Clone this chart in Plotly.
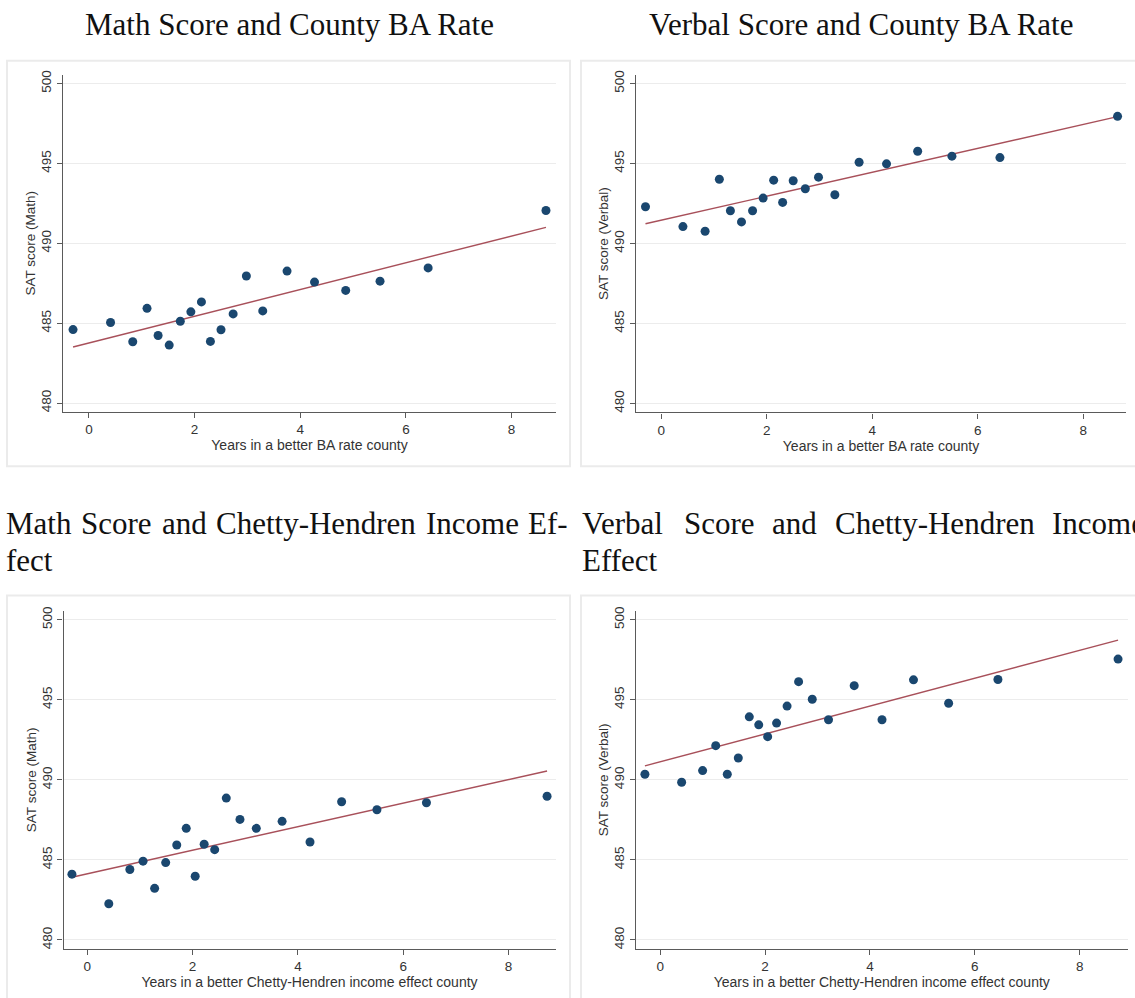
import plotly.graph_objects as go

W, H = 1135, 998

# Binned scatter: years of exposure vs. mean SAT score
ba_years = [-0.30, 0.41, 0.83, 1.10, 1.31, 1.52, 1.73, 1.93, 2.13, 2.30,
            2.50, 2.73, 2.98, 3.29, 3.75, 4.27, 4.86, 5.51, 6.42, 8.65]
ba_math = [484.60, 485.04, 483.84, 485.93, 484.23, 483.63, 485.12, 485.71, 486.33, 483.86,
           484.59, 485.58, 487.95, 485.77, 488.26, 487.57, 487.05, 487.63, 488.46, 492.05]
ba_verbal = [492.30, 491.06, 490.77, 494.02, 492.05, 491.35, 492.05, 492.84, 493.96, 492.57,
             493.92, 493.42, 494.15, 493.05, 495.08, 494.98, 495.77, 495.46, 495.37, 497.95]

ch_years = [-0.29, 0.41, 0.81, 1.06, 1.28, 1.49, 1.70, 1.88, 2.05, 2.22,
            2.42, 2.64, 2.90, 3.21, 3.70, 4.23, 4.83, 5.50, 6.44, 8.73]
ch_math = [484.11, 482.26, 484.40, 484.92, 483.22, 484.83, 485.93, 486.97, 483.98, 485.98,
           485.64, 488.86, 487.53, 486.97, 487.41, 486.12, 488.63, 488.13, 488.57, 488.98]
ch_verbal = [490.35, 489.85, 490.58, 492.14, 490.35, 491.37, 493.94, 493.44, 492.70, 493.55,
             494.61, 496.14, 495.04, 493.76, 495.89, 493.76, 496.25, 494.79, 496.27, 497.55]

# Linear fit (intercept, slope) for each panel
fit_ba_math = (483.76, 0.837)
fit_ba_verbal = (491.46, 0.748)
fit_ch_math = (484.13, 0.736)
fit_ch_verbal = (491.13, 0.871)

y_ticks = [480, 485, 490, 495, 500]
x_ticks = [0, 2, 4, 6, 8]

NAVY = "#1a476f"
MAROON = "#a8505a"
AXIS = "#5a5a5a"
GRID = "#ececec"
SANS = "Liberation Sans, Arial, sans-serif"
SERIF = "Liberation Serif, Times New Roman, serif"


def px_x(p):
    return p / W


def px_y(p):
    return 1 - p / H


panels = [
    # (x, y, fit, y title, x title, x-domain px, y-domain px, x range)
    (ba_years, ba_math, fit_ba_math, "SAT score (Math)", "Years in a better BA rate county",
     (63, 556), (71, 409.5), (-0.49, 8.84)),
    (ba_years, ba_verbal, fit_ba_verbal, "SAT score (Verbal)", "Years in a better BA rate county",
     (636, 1126), (71, 410), (-0.48, 8.81)),
    (ch_years, ch_math, fit_ch_math, "SAT score (Math)",
     "Years in a better Chetty-Hendren income effect county",
     (63.5, 555.5), (609.5, 948.5), (-0.45, 8.89)),
    (ch_years, ch_verbal, fit_ch_verbal, "SAT score (Verbal)",
     "Years in a better Chetty-Hendren income effect county",
     (636, 1127.5), (609.5, 948.5), (-0.46, 8.91)),
]

fig = go.Figure()
layout = {}
annotations = []
shapes = []

# light frames around each graph region
frames = [(7, 570, 57, 464), (581, 1140, 57, 464), (7, 570, 594, 1000), (581, 1140, 594, 1000)]
for x0, x1, y0, y1 in frames:
    shapes.append(dict(type="rect", xref="paper", yref="paper",
                       x0=px_x(x0), x1=px_x(x1), y0=px_y(y1), y1=px_y(y0),
                       line=dict(color="#ebebeb", width=2), fillcolor="rgba(0,0,0,0)",
                       layer="below"))

for i, (xs, ys, fit, ytitle, xtitle, xd, yd, xr) in enumerate(panels, start=1):
    xa = "x" if i == 1 else f"x{i}"
    ya = "y" if i == 1 else f"y{i}"
    a, b = fit
    x_lo, x_hi = min(xs), max(xs)
    fig.add_trace(go.Scatter(x=[x_lo, x_hi], y=[a + b * x_lo, a + b * x_hi], mode="lines",
                             line=dict(color=MAROON, width=1.4), xaxis=xa, yaxis=ya,
                             showlegend=False, hoverinfo="skip"))
    fig.add_trace(go.Scatter(x=xs, y=ys, mode="markers",
                             marker=dict(color=NAVY, size=9, line=dict(width=0)),
                             xaxis=xa, yaxis=ya, showlegend=False))
    xkey = "xaxis" if i == 1 else f"xaxis{i}"
    ykey = "yaxis" if i == 1 else f"yaxis{i}"
    layout[xkey] = dict(domain=[px_x(xd[0]), px_x(xd[1])], anchor=ya, range=list(xr),
                        tickvals=x_ticks, showgrid=False, zeroline=False,
                        showline=True, linecolor=AXIS, linewidth=1.3,
                        ticks="outside", ticklen=5, tickcolor=AXIS, tickwidth=1.2,
                        tickfont=dict(family=SANS, size=13.5, color="#333333"),
                        title=dict(text=xtitle, standoff=1,
                                   font=dict(family=SANS, size=14, color="#333333")))
    layout[ykey] = dict(domain=[px_y(yd[1]), px_y(yd[0])], anchor=xa,
                        range=[479.45, 500.55], tickvals=y_ticks, tickangle=-90,
                        showgrid=True, gridcolor=GRID, gridwidth=1, zeroline=False,
                        showline=True, linecolor=AXIS, linewidth=1.3,
                        ticks="outside", ticklen=5, tickcolor=AXIS, tickwidth=1.2,
                        tickfont=dict(family=SANS, size=13.5, color="#333333"),
                        title=dict(text=ytitle, standoff=0,
                                   font=dict(family=SANS, size=13.5, color="#333333")))

# panel headings
title_font = dict(family=SERIF, size=31, color="#111111")
annotations.append(dict(text="Math Score and County BA Rate", xref="paper", yref="paper",
                        x=px_x(289), y=px_y(21), xanchor="center", yanchor="middle",
                        showarrow=False, font=title_font))
annotations.append(dict(text="Verbal Score and County BA Rate", xref="paper", yref="paper",
                        x=px_x(861), y=px_y(21), xanchor="center", yanchor="middle",
                        showarrow=False, font=title_font))

# justified two-line headings, placed word by word
heading_words = [
    (["Math", "Score", "and", "Chetty-Hendren", "Income", "Ef-"],
     [4, 79, 159.5, 214, 423.5, 526], 522),
    (["fect"], [4], 559),
    (["Verbal", "Score", "and", "Chetty-Hendren", "Income"],
     [580, 681.5, 770, 832.5, 1050], 522),
    (["Effect"], [580], 559),
]
for words, xs_px, y_px in heading_words:
    for w, xp in zip(words, xs_px):
        annotations.append(dict(text=w, xref="paper", yref="paper",
                                x=px_x(xp), y=px_y(y_px), xanchor="left", yanchor="middle",
                                showarrow=False, font=title_font))

fig.update_layout(width=W, height=H, margin=dict(l=0, r=0, t=0, b=0),
                  paper_bgcolor="white", plot_bgcolor="white",
                  annotations=annotations, shapes=shapes, **layout)

fig.write_html("out.html")
